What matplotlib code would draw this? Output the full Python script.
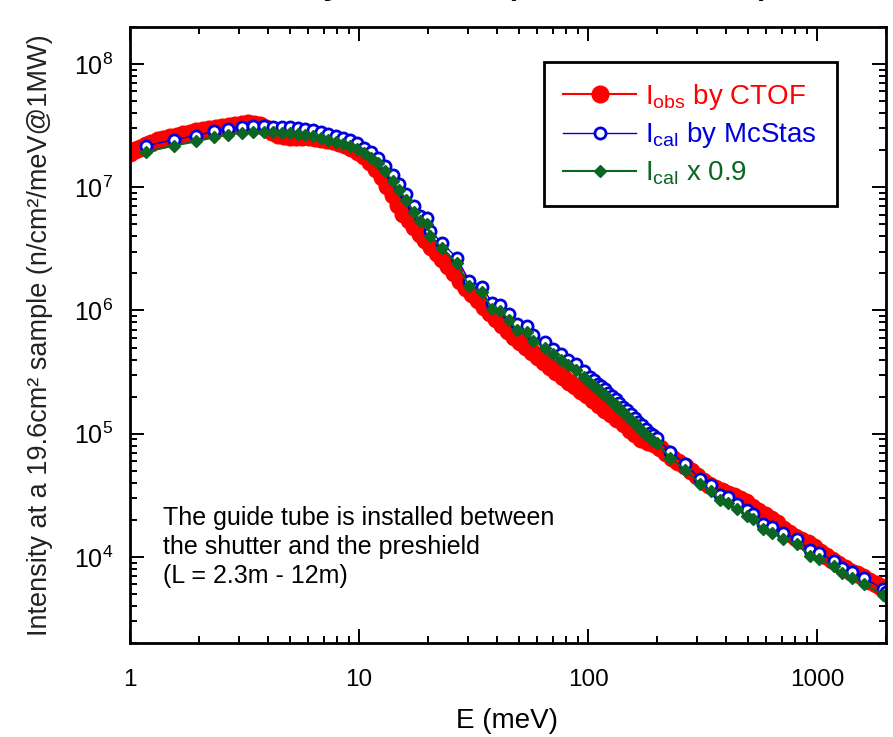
import matplotlib
matplotlib.use("Agg")
import matplotlib.pyplot as plt
from matplotlib import ticker

plt.rcParams['font.family'] = ['Liberation Sans', 'DejaVu Sans']
plt.rcParams['mathtext.fontset'] = 'custom'
plt.rcParams['mathtext.rm'] = 'Liberation Sans'
plt.rcParams['mathtext.default'] = 'regular'

# observed spectrum (CTOF)
E_obs = [1.00, 1.05, 1.10, 1.17, 1.24, 1.32, 1.40, 1.50, 1.60, 1.70, 1.82, 1.95,
         2.08, 2.22, 2.37, 2.53, 2.70, 2.88, 3.07, 3.27, 3.48, 3.70, 3.93, 4.17,
         4.43, 4.70, 5.00, 5.32, 5.66, 6.02, 6.40, 6.80, 7.23, 7.70, 8.20, 8.70,
         9.25, 9.85, 10.5, 11.2, 11.9, 12.6, 13.3, 14.0, 14.8, 15.6, 16.5, 17.4,
         18.4, 19.5, 20.6, 21.8, 23.1, 24.5, 26.0, 27.6, 29.3, 31.1, 33.0, 35.0,
         37.2, 39.5, 42.0, 44.6, 47.4, 50.4, 53.6, 57.0, 60.6, 64.4, 68.5, 72.8,
         77.4, 82.3, 87.5, 93.0, 98.9, 105, 112, 119, 126, 134, 143, 152,
         161, 171, 182, 194, 206, 219, 233, 248, 264, 281, 299, 318,
         338, 360, 383, 407, 433, 461, 490, 521, 554, 590, 627, 667,
         710, 755, 803, 854, 909, 967, 1030, 1095, 1165, 1240, 1320, 1400,
         1490, 1590, 1690, 1800, 1910, 2000]
I_obs = [1.90e7, 2.00e7, 2.10e7, 2.20e7, 2.30e7, 2.40e7, 2.48e7, 2.56e7, 2.63e7, 2.70e7, 2.77e7, 2.84e7,
         2.90e7, 2.96e7, 3.02e7, 3.08e7, 3.14e7, 3.20e7, 3.26e7, 3.30e7, 3.28e7, 3.18e7, 3.00e7, 2.82e7,
         2.68e7, 2.60e7, 2.56e7, 2.55e7, 2.55e7, 2.54e7, 2.52e7, 2.48e7, 2.44e7, 2.38e7, 2.30e7, 2.20e7,
         2.08e7, 1.95e7, 1.78e7, 1.60e7, 1.42e7, 1.22e7, 1.03e7, 8.6e6, 7.2e6, 6.1e6, 5.4e6, 4.8e6,
         4.2e6, 3.75e6, 3.3e6, 2.95e6, 2.6e6, 2.3e6, 2.0e6, 1.75e6, 1.53e6, 1.37e6, 1.22e6, 1.07e6,
         9.5e5, 8.5e5, 7.6e5, 6.8e5, 6.1e5, 5.55e5, 5.05e5, 4.6e5, 4.2e5, 3.85e5, 3.45e5, 3.15e5,
         2.9e5, 2.62e5, 2.42e5, 2.22e5, 2.05e5, 1.87e5, 1.72e5, 1.57e5, 1.44e5, 1.31e5, 1.19e5, 1.08e5,
         9.9e4, 9.0e4, 8.6e4, 8.2e4, 7.7e4, 7.0e4, 6.4e4, 5.9e4, 5.45e4, 4.95e4, 4.5e4, 4.15e4,
         3.85e4, 3.6e4, 3.4e4, 3.25e4, 3.1e4, 2.95e4, 2.78e4, 2.55e4, 2.35e4, 2.2e4, 2.02e4, 1.88e4,
         1.7e4, 1.57e4, 1.45e4, 1.37e4, 1.3e4, 1.2e4, 1.1e4, 1.01e4, 9.5e3, 8.8e3, 8.2e3, 7.6e3,
         7.2e3, 6.9e3, 6.4e3, 6.0e3, 5.7e3, 5.4e3]

# McStas calculation
E_cal = [1.18, 1.56, 1.95, 2.33, 2.69, 3.07, 3.46, 3.86, 4.23, 4.60, 5.00, 5.40,
         5.80, 6.30, 6.80, 7.30, 7.90, 8.50, 9.10, 9.80, 10.5, 11.3, 12.1, 13.0,
         14.0, 15.0, 16.1, 17.3, 18.5, 19.8, 20.5, 23.0, 26.7, 30.2, 34.5, 38.2,
         41.3, 45.2, 48.9, 54.0, 57.5, 65.0, 70.0, 76.0, 82.0, 89.0, 96.0,
         102, 106, 110, 114, 118, 122, 127, 132, 137, 142, 148, 154,
         160, 166, 172, 179, 186, 193, 200, 228, 265, 309, 344, 377,
         410, 448, 493, 527, 580, 638, 710, 814, 930, 1020, 1180, 1290,
         1420, 1610, 1940, 2000]
I_cal = [2.17e7, 2.44e7, 2.63e7, 2.85e7, 2.98e7, 3.10e7, 3.13e7, 3.13e7, 3.10e7, 3.08e7, 3.06e7, 3.03e7,
         2.98e7, 2.90e7, 2.80e7, 2.70e7, 2.60e7, 2.50e7, 2.40e7, 2.27e7, 2.10e7, 1.92e7, 1.74e7, 1.50e7,
         1.25e7, 1.06e7, 8.8e6, 7.0e6, 5.9e6, 5.6e6, 4.4e6, 3.55e6, 2.68e6, 1.75e6, 1.56e6, 1.14e6,
         1.10e6, 9.3e5, 7.7e5, 7.5e5, 6.3e5, 5.5e5, 4.9e5, 4.4e5, 4.0e5, 3.67e5, 3.2e5,
         2.88e5, 2.72e5, 2.55e5, 2.42e5, 2.30e5, 2.15e5, 2.02e5, 1.90e5, 1.78e5, 1.66e5, 1.55e5, 1.44e5,
         1.34e5, 1.25e5, 1.17e5, 1.09e5, 1.02e5, 9.7e4, 9.3e4, 7.1e4, 5.7e4, 4.3e4, 3.8e4, 3.2e4,
         3.06e4, 2.7e4, 2.39e4, 2.24e4, 1.86e4, 1.74e4, 1.56e4, 1.41e4, 1.13e4, 1.08e4, 9.3e3, 8.2e3,
         7.6e3, 6.7e3, 5.5e3, 5.2e3]
I_cal09 = [1.95e7, 2.18e7, 2.36e7, 2.55e7, 2.67e7, 2.78e7, 2.81e7, 2.82e7, 2.79e7, 2.77e7, 2.75e7, 2.72e7,
           2.68e7, 2.61e7, 2.52e7, 2.43e7, 2.34e7, 2.25e7, 2.16e7, 2.04e7, 1.89e7, 1.73e7, 1.57e7, 1.35e7,
           1.12e7, 9.5e6, 7.9e6, 6.3e6, 5.3e6, 5.0e6, 4.0e6, 3.2e6, 2.41e6, 1.58e6, 1.40e6, 1.03e6,
           9.9e5, 8.4e5, 6.9e5, 6.75e5, 5.7e5, 4.95e5, 4.4e5, 3.96e5, 3.6e5, 3.3e5, 2.88e5,
           2.59e5, 2.45e5, 2.3e5, 2.18e5, 2.07e5, 1.94e5, 1.82e5, 1.71e5, 1.6e5, 1.49e5, 1.4e5, 1.3e5,
           1.21e5, 1.13e5, 1.05e5, 9.8e4, 9.2e4, 8.7e4, 8.4e4, 6.4e4, 5.1e4, 3.9e4, 3.4e4, 2.9e4,
           2.75e4, 2.43e4, 2.15e4, 2.02e4, 1.67e4, 1.57e4, 1.4e4, 1.27e4, 1.02e4, 9.7e3, 8.4e3, 7.4e3,
           6.8e3, 6.0e3, 4.95e3, 4.7e3]

x_ticks = [1, 10, 100, 1000]
labels = [r'I$_{obs}$ by CTOF', r'I$_{cal}$ by McStas', r'I$_{cal}$ x 0.9']
colors = ['#ff0000', '#0000dd', '#0b6623']

fig = plt.figure(figsize=(8.93, 7.37), dpi=100)
ax = fig.add_axes([0.1456, 0.1275, 0.8466, 0.8359])

ax.plot(E_obs, I_obs, '-o', color=colors[0], ms=12, lw=1.5, label=labels[0])
ax.plot(E_cal, I_cal, '-o', color=colors[1], mfc='white', mec=colors[1], ms=8, mew=2, lw=1, label=labels[1])
ax.plot(E_cal, I_cal09, '-D', color=colors[2], ms=6, lw=1.5, label=labels[2])

ax.set_xscale('log')
ax.set_yscale('log')
ax.set_xlim(1, 2000)
ax.set_ylim(2e3, 2e8)
ax.set_xticks(x_ticks)
ax.xaxis.set_major_formatter(ticker.FuncFormatter(lambda v, p: '%g' % v))
ax.xaxis.set_minor_formatter(ticker.NullFormatter())
ax.yaxis.set_minor_formatter(ticker.NullFormatter())

for s in ax.spines.values():
    s.set_linewidth(2)
ax.tick_params(which='both', direction='in', top=True, right=True, width=1.4)
ax.tick_params(which='major', length=10)
ax.tick_params(which='minor', length=5)
ax.tick_params(axis='x', which='major', labelsize=17.5, pad=19)
ax.tick_params(axis='y', which='major', labelsize=18, pad=12)

fig.text(0.568, 0.022, 'E (meV)', ha='center', va='center', fontsize=20)
fig.text(0.045, 0.5455, 'Intensity at a 19.6cm² sample (n/cm²/meV@1MW)',
         rotation=90, ha='center', va='center', fontsize=19.5, color='#222222')

ax.text(0.0437, 0.222, 'The guide tube is installed between\nthe shutter and the preshield\n(L = 2.3m - 12m)',
        transform=ax.transAxes, ha='left', va='top', fontsize=18, linespacing=1.25)

# title cut off by the top edge
fig.text(0.8667, 1.012, 'Measured by CTOF (2015, 1MW)', ha='right', va='baseline', fontsize=34)

leg = ax.legend(loc='upper left', bbox_to_anchor=(0.5476, 0.943), fontsize=20,
                frameon=True, fancybox=False, edgecolor='black', framealpha=1,
                handlelength=2.6, handletextpad=0.35, borderpad=0.7, labelspacing=0.32,
                borderaxespad=0)
leg.get_frame().set_linewidth(2)
for t, c in zip(leg.get_texts(), colors):
    t.set_color(c)

fig.savefig('out.png', dpi=100)
